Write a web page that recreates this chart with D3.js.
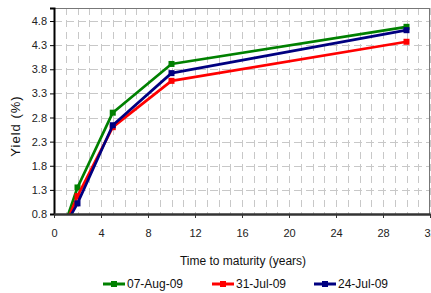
<!DOCTYPE html>
<html><head><meta charset="utf-8">
<script src="https://cdn.jsdelivr.net/npm/d3@7"></script>
<style>html,body{margin:0;padding:0;background:#fff;overflow:hidden}svg{display:block}text{font-family:"Liberation Sans",Arial,sans-serif}</style>
</head><body>
<svg id="c" width="431" height="293"></svg>
<script>
const maturities = [1, 2, 5, 10, 30];
const seriesNames = ["07-Aug-09", "31-Jul-09", "24-Jul-09"];
const seriesColors = ["#008000", "#ff0000", "#000080"];
const aug07 = [0.64, 1.35, 2.90, 3.91, 4.68];
const jul31 = [0.59, 1.17, 2.60, 3.56, 4.37];
const jul24 = [0.58, 1.02, 2.64, 3.72, 4.61];
const yTicks = [0.8, 1.3, 1.8, 2.3, 2.8, 3.3, 3.8, 4.3, 4.8];
const xTicks = [0, 4, 8, 12, 16, 20, 24, 28, 32];
const seriesValues = [aug07, jul31, jul24];

const svg = d3.select("#c");
const x = d3.scaleLinear().domain([0, 32]).range([54, 430]);
const y = d3.scaleLinear().domain([0.8, 5.07]).range([214, 8]);

// gridlines
const grid = svg.append("g").attr("stroke", "#c8c8c8").attr("stroke-width", 1).attr("stroke-dasharray", "7,5");
grid.selectAll("line.v").data(d3.range(1, 33)).enter().append("line")
  .attr("x1", d => Math.round(x(d)) + 0.5).attr("x2", d => Math.round(x(d)) + 0.5)
  .attr("y1", y.range()[1]).attr("y2", y.range()[0]);
grid.selectAll("line.h").data(yTicks.slice(1)).enter().append("line")
  .attr("y1", d => Math.round(y(d)) + 0.5).attr("y2", d => Math.round(y(d)) + 0.5)
  .attr("x1", x.range()[0]).attr("x2", x.range()[1]).attr("stroke-dasharray", "8,4");

// frame top/right
svg.append("line").attr("x1", 54).attr("x2", 430).attr("y1", 8.5).attr("y2", 8.5).attr("stroke", "#777");
svg.append("line").attr("x1", 429.5).attr("x2", 429.5).attr("y1", 8).attr("y2", 214).attr("stroke", "#777");

// clip
svg.append("clipPath").attr("id", "clip").append("rect").attr("x", 54).attr("y", 0).attr("width", 380).attr("height", 214);

const line = d3.line().x(d => x(d[0])).y(d => y(d[1]));
const plot = svg.append("g").attr("clip-path", "url(#clip)");
seriesValues.forEach((vals, i) => {
  const pts = maturities.map((m, j) => [m, vals[j]]);
  plot.append("path").datum(pts).attr("d", line).attr("fill", "none")
    .attr("stroke", seriesColors[i]).attr("stroke-width", 2.7).attr("stroke-linejoin", "round");
  plot.selectAll(null).data(pts.filter(p => p[1] >= 0.8)).enter().append("rect")
    .attr("x", d => x(d[0]) - 3).attr("y", d => y(d[1]) - 3).attr("width", 6).attr("height", 6)
    .attr("fill", seriesColors[i]);
});

// axes
const yAxis = d3.axisLeft(y).tickValues(yTicks).tickFormat(d3.format(".1f")).tickSize(4).tickPadding(3);
const gy = svg.append("g").attr("transform", "translate(54,0)").call(yAxis);
gy.select(".domain").attr("stroke", "#000").attr("stroke-width", 2);
gy.selectAll(".tick line").attr("stroke", "#000");
gy.selectAll("text").attr("font-size", 11).attr("fill", "#222").attr("font-family", "Liberation Sans, Arial, sans-serif");

const xAxis = d3.axisBottom(x).tickValues(xTicks).tickSize(4).tickSizeOuter(0).tickPadding(11);
const gx = svg.append("g").attr("transform", "translate(0,214)").call(xAxis);
gx.select(".domain").attr("stroke", "#333").attr("stroke-width", 2.5);
gx.selectAll(".tick line").attr("stroke", "#333");
gx.selectAll("text").attr("font-size", 11).attr("fill", "#222").attr("font-family", "Liberation Sans, Arial, sans-serif");

// axis titles
svg.append("text").attr("x", 243).attr("y", 265).attr("text-anchor", "middle").attr("font-size", 12).attr("fill", "#111").text("Time to maturity (years)");
svg.append("text").attr("transform", "translate(20,126) rotate(-90)").attr("text-anchor", "middle").attr("font-size", 13).attr("letter-spacing", 1).attr("fill", "#111").text("Yield (%)");

// legend
const legX = [103, 212, 314];
seriesNames.forEach((n, i) => {
  const g = svg.append("g").attr("transform", `translate(${legX[i]},284)`);
  g.append("line").attr("x1", 0).attr("x2", 22).attr("y1", 0).attr("y2", 0).attr("stroke", seriesColors[i]).attr("stroke-width", 3);
  g.append("rect").attr("x", 8).attr("y", -3).attr("width", 6).attr("height", 6).attr("fill", seriesColors[i]);
  g.append("text").attr("x", 24).attr("y", 4).attr("font-size", 12).attr("fill", "#111").text(n);
});
</script>
</body></html>
